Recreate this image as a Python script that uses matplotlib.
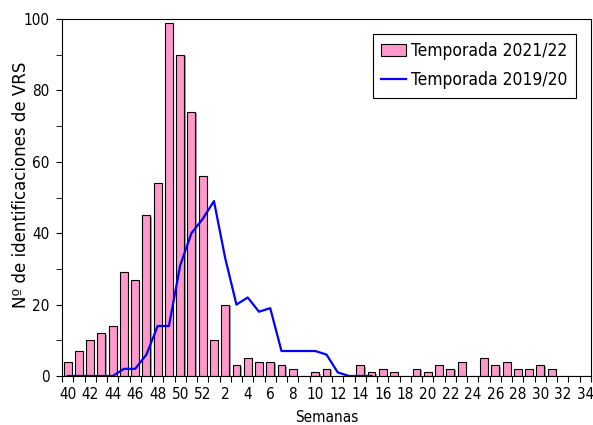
import numpy as np
import matplotlib.pyplot as plt
import matplotlib.patheffects as pe
from matplotlib.lines import Line2D
from matplotlib.patches import Patch

#%% DATOS

semanas = list(range(40, 53)) + list(range(1, 35))

# Temporada 2021/22 (barras)
vrs_2122 = [4, 7, 10, 12, 14, 29, 27, 45, 54, 99, 90, 74, 56,
            10, 20, 3, 5, 4, 4, 3, 2, 0, 1, 2, 0, 0, 3, 1, 2, 1,
            0, 2, 1, 3, 2, 4, 0, 5, 3, 4, 2, 2, 3, 2, 0, 0, 0]

# Temporada 2019/20 (linea, hasta semana 15)
vrs_1920 = [0, 0, 0, 0, 0, 2, 2, 6, 14, 14, 31, 40, 44,
            49, 33, 20, 22, 18, 19, 7, 7, 7, 7, 6, 1, 0, 0, 0]

etiquetas = [str(s) if s % 2 == 0 else '' for s in semanas]

#%% GRAFICO

cond = dict(family='DejaVu Sans', stretch='condensed')

fig = plt.figure(figsize=(5.93, 4.25), dpi=100)
ax = fig.add_axes([62/593, 1-376/425, 529/593, 357/425])

x = np.arange(len(semanas))
ax.bar(x, vrs_2122, width=0.7, color='#ff99cc', edgecolor='black', linewidth=0.8,
       path_effects=[pe.SimplePatchShadow(offset=(1, -1), shadow_rgbFace='#888888', alpha=0.8),
                     pe.Normal()])
ax.plot(x[:len(vrs_1920)], vrs_1920, color='#0000ff', linewidth=1.6)

ax.set_xlim(-0.5, len(semanas) - 0.5)
ax.set_ylim(0, 100)

ax.set_xticks(np.arange(-0.5, len(semanas)), minor=False)
ax.set_xticklabels([])
ax.set_xticks(x, minor=True)
ax.set_xticklabels(etiquetas, minor=True, fontsize=11, **cond)
ax.tick_params(axis='x', which='major', length=4, direction='out')
ax.tick_params(axis='x', which='minor', length=0, pad=8)

ax.set_yticks(np.arange(0, 101, 20))
ax.set_yticks(np.arange(10, 100, 20), minor=True)
ax.tick_params(axis='y', which='both', length=4, direction='out', pad=5)
for t in ax.get_yticklabels():
    t.set_family('DejaVu Sans')
    t.set_stretch('condensed')
    t.set_fontsize(11)

ax.set_ylabel('Nº de identificaciones de VRS', fontsize=12)
ax.yaxis.set_label_coords(-0.06, 0.535)
ax.set_xlabel('Semanas', fontsize=11, **cond)
ax.xaxis.set_label_coords(0.5, -0.095)

handles = [Patch(facecolor='#ff99cc', edgecolor='black', linewidth=0.8),
           Line2D([0], [0], color='#0000ff', linewidth=1.6)]
leg = ax.legend(handles, ['Temporada 2021/22', 'Temporada 2019/20'],
                loc='upper right', bbox_to_anchor=(0.988, 0.983),
                prop=dict(size=12.5, **cond), fancybox=False,
                edgecolor='black', framealpha=1, handlelength=1.4,
                handletextpad=0.3, borderpad=0.5, labelspacing=0.6)
leg.get_frame().set_linewidth(0.8)

plt.savefig('out.png', dpi=100)
